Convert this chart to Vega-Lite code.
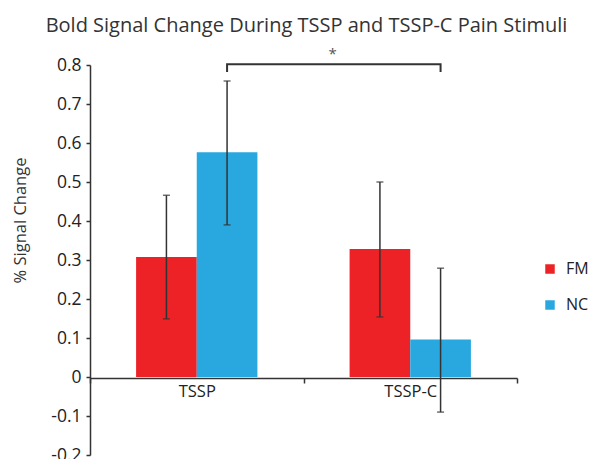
{
  "$schema": "https://vega.github.io/schema/vega-lite/v6.json",
  "autosize": "none",
  "width": 427,
  "height": 390,
  "padding": {"left": 90, "top": 65, "right": 75, "bottom": 4},
  "background": "white",
  "config": {
    "font": "Open Sans",
    "view": {"stroke": null},
    "axisX": {"grid": false, "domainColor": "#333", "tickColor": "#333", "labelColor": "#222", "labelFont": "Open Sans", "labelFontSize": 16.5, "labelOverlap": false, "domainWidth": 1.5, "tickWidth": 1.5, "tickSize": 5, "title": null, "labelAngle": 0, "offset": -77, "tickBand": "extent", "labelPadding": 0},
    "axisY": {"grid": false, "domainColor": "#333", "tickColor": "#333", "labelColor": "#222", "titleColor": "#333", "labelFont": "Open Sans", "titleFont": "Open Sans", "labelFontSize": 17.5, "titleFontSize": 16.5, "titleFontWeight": "normal", "labelOverlap": false, "domainWidth": 1.5, "tickWidth": 1.5, "tickSize": 4, "labelPadding": 5, "titleX": -70, "titleY": 155, "titleAngle": -90, "titleAlign": "center", "titleBaseline": "middle"}
  },
  "title": {
    "text": "Bold Signal Change During TSSP and TSSP-C Pain Stimuli",
    "fontSize": 20,
    "fontWeight": "normal",
    "color": "#333",
    "anchor": "middle",
    "frame": "group",
    "dx": 3,
    "offset": 11
  },
  "datasets": {
    "bars": [
      {"stimulus": "TSSP", "group": "FM", "value": 0.308, "lo": 0.149, "hi": 0.466},
      {"stimulus": "TSSP", "group": "NC", "value": 0.576, "lo": 0.39, "hi": 0.759},
      {"stimulus": "TSSP-C", "group": "FM", "value": 0.328, "lo": 0.154, "hi": 0.5},
      {"stimulus": "TSSP-C", "group": "NC", "value": 0.096, "lo": -0.09, "hi": 0.279}
    ],
    "bracket": [
      {"stimulus": "TSSP", "group": "NC", "y": 0.782, "order": 1},
      {"stimulus": "TSSP", "group": "NC", "y": 0.802, "order": 2},
      {"stimulus": "TSSP-C", "group": "NC", "y": 0.802, "order": 3},
      {"stimulus": "TSSP-C", "group": "NC", "y": 0.782, "order": 4}
    ],
    "sig": [
      {"stimulus": "TSSP-C", "label": "*", "y": 0.828}
    ]
  },
  "layer": [
    {
      "data": {"name": "bars"},
      "mark": {"type": "bar"},
      "encoding": {
        "x": {"field": "stimulus", "type": "nominal", "sort": ["TSSP", "TSSP-C"],
          "scale": {"paddingInner": 0, "paddingOuter": 0}},
        "xOffset": {"field": "group", "type": "nominal", "sort": ["FM", "NC"], "scale": {"paddingInner": 0, "paddingOuter": 0.76}},
        "y": {"field": "value", "type": "quantitative",
          "scale": {"domain": [-0.2, 0.8], "nice": false, "zero": false},
          "axis": {"title": "% Signal Change", "values": [-0.2, -0.1, 0, 0.1, 0.2, 0.3, 0.4, 0.5, 0.6, 0.7, 0.8], "labelFontSize": 17.5, "titleFontSize": 16.5,
            "labelExpr": "datum.value == 0 ? '0' : replace(format(datum.value, '.1f'), '\u2212', '-')"}},
        "color": {"field": "group", "type": "nominal",
          "scale": {"domain": ["FM", "NC"], "range": ["#EC2227", "#29A8E0"]},
          "legend": {"title": null, "orient": "none", "legendX": 452, "legendY": 196, "symbolType": "square", "symbolSize": 90, "symbolStrokeWidth": 0, "labelFontSize": 16, "labelColor": "#222", "labelFont": "Open Sans", "labelOffset": 8, "rowPadding": 20}}
      }
    },
    {
      "data": {"name": "bars"},
      "mark": {"type": "rule", "color": "#333", "strokeWidth": 1.5},
      "encoding": {
        "x": {"field": "stimulus", "type": "nominal", "sort": ["TSSP", "TSSP-C"]},
        "xOffset": {"field": "group", "type": "nominal", "sort": ["FM", "NC"]},
        "y": {"field": "lo", "type": "quantitative",
          "axis": {"title": "% Signal Change", "values": [-0.2, -0.1, 0, 0.1, 0.2, 0.3, 0.4, 0.5, 0.6, 0.7, 0.8], "labelFontSize": 17.5, "titleFontSize": 16.5,
            "labelExpr": "datum.value == 0 ? '0' : replace(format(datum.value, '.1f'), '\u2212', '-')"}},
        "y2": {"field": "hi"}
      }
    },
    {
      "data": {"name": "bars"},
      "mark": {"type": "tick", "color": "#333", "size": 7, "thickness": 1.5, "orient": "horizontal"},
      "encoding": {
        "x": {"field": "stimulus", "type": "nominal", "sort": ["TSSP", "TSSP-C"]},
        "xOffset": {"field": "group", "type": "nominal", "sort": ["FM", "NC"]},
        "y": {"field": "lo", "type": "quantitative",
          "axis": {"title": "% Signal Change", "values": [-0.2, -0.1, 0, 0.1, 0.2, 0.3, 0.4, 0.5, 0.6, 0.7, 0.8], "labelFontSize": 17.5, "titleFontSize": 16.5,
            "labelExpr": "datum.value == 0 ? '0' : replace(format(datum.value, '.1f'), '\u2212', '-')"}}
      }
    },
    {
      "data": {"name": "bars"},
      "mark": {"type": "tick", "color": "#333", "size": 7, "thickness": 1.5, "orient": "horizontal"},
      "encoding": {
        "x": {"field": "stimulus", "type": "nominal", "sort": ["TSSP", "TSSP-C"]},
        "xOffset": {"field": "group", "type": "nominal", "sort": ["FM", "NC"]},
        "y": {"field": "hi", "type": "quantitative",
          "axis": {"title": "% Signal Change", "values": [-0.2, -0.1, 0, 0.1, 0.2, 0.3, 0.4, 0.5, 0.6, 0.7, 0.8], "labelFontSize": 17.5, "titleFontSize": 16.5,
            "labelExpr": "datum.value == 0 ? '0' : replace(format(datum.value, '.1f'), '\u2212', '-')"}}
      }
    },
    {
      "data": {"name": "bracket"},
      "mark": {"type": "line", "color": "#333", "strokeWidth": 2, "clip": false},
      "encoding": {
        "x": {"field": "stimulus", "type": "nominal", "sort": ["TSSP", "TSSP-C"]},
        "xOffset": {"field": "group", "type": "nominal", "sort": ["FM", "NC"]},
        "y": {"field": "y", "type": "quantitative",
          "axis": {"title": "% Signal Change", "values": [-0.2, -0.1, 0, 0.1, 0.2, 0.3, 0.4, 0.5, 0.6, 0.7, 0.8], "labelFontSize": 17.5, "titleFontSize": 16.5,
            "labelExpr": "datum.value == 0 ? '0' : replace(format(datum.value, '.1f'), '\u2212', '-')"}},
        "order": {"field": "order", "type": "quantitative"}
      }
    },
    {
      "data": {"name": "sig"},
      "mark": {"type": "text", "fontSize": 15, "color": "#555", "dx": 29, "baseline": "middle", "clip": false},
      "encoding": {
        "x": {"field": "stimulus", "type": "nominal", "sort": ["TSSP", "TSSP-C"], "bandPosition": 0},
        "y": {"field": "y", "type": "quantitative",
          "axis": {"title": "% Signal Change", "values": [-0.2, -0.1, 0, 0.1, 0.2, 0.3, 0.4, 0.5, 0.6, 0.7, 0.8], "labelFontSize": 17.5, "titleFontSize": 16.5,
            "labelExpr": "datum.value == 0 ? '0' : replace(format(datum.value, '.1f'), '\u2212', '-')"}},
        "text": {"field": "label"}
      }
    }
  ]
}
